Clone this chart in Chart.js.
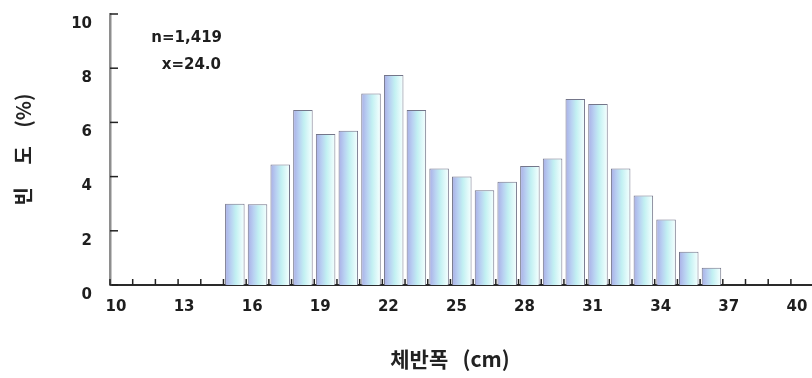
<!DOCTYPE html>
<html>
<head>
<meta charset="utf-8">
<script src="https://cdn.jsdelivr.net/npm/chart.js@4.4.1/dist/chart.umd.min.js"></script>
<style>
html,body{margin:0;padding:0;background:#ffffff;overflow:hidden}
canvas{display:block}
</style>
</head>
<body>
<canvas id="c" width="812" height="378"></canvas>
<script>
// ---- data ----
const binStarts = [15,16,17,18,19,20,21,22,23,24,25,26,27,28,29,30,31,32,33,34,35,36];
const frequency = [3.0,2.98,4.45,6.46,5.57,5.69,7.07,7.75,6.46,4.3,4.0,3.5,3.81,4.39,4.67,6.86,6.68,4.3,3.3,2.42,1.23,0.64];
const xTickLabels = [10,13,16,19,22,25,28,31,34,37,40];
const yTickLabels = [0,2,4,6,8,10];
const xTitle = '체반폭   (cm)';
const yTitle = '빈     도    (%)';
const notes = ['n=1,419', 'x=24.0'];

const labelFont = {family: '"DejaVu Sans", sans-serif', size: 15, weight: 'bold'};

function barFill(ctx) {
  const chart = ctx.chart;
  const xs = chart.scales && chart.scales.x;
  if (ctx.type !== 'data' || !xs || !chart.chartArea) return '#c4f0f0';
  const b = binStarts[ctx.dataIndex];
  const l = xs.getPixelForValue(b + 0.07);
  const r = xs.getPixelForValue(b + 0.93);
  if (!isFinite(l) || !isFinite(r) || r <= l) return '#c4f0f0';
  const g = chart.ctx.createLinearGradient(l, 0, r, 0);
  g.addColorStop(0, '#a9aee6');
  g.addColorStop(0.3, '#b9d2f2');
  g.addColorStop(0.55, '#c2f0f2');
  g.addColorStop(0.85, '#e6fbfb');
  g.addColorStop(1, '#f6ffff');
  return g;
}

const inwardTicks = {
  id: 'inwardTicks',
  afterDatasetsDraw(chart) {
    const {ctx, chartArea, scales} = chart;
    ctx.save();
    ctx.strokeStyle = '#222';
    ctx.lineWidth = 1.5;
    scales.x.ticks.forEach(t => {
      const px = scales.x.getPixelForValue(t.value);
      ctx.beginPath();
      ctx.moveTo(px, chartArea.bottom);
      ctx.lineTo(px, chartArea.bottom - 6);
      ctx.stroke();
    });
    scales.y.ticks.forEach(t => {
      const py = scales.y.getPixelForValue(t.value);
      ctx.beginPath();
      ctx.moveTo(chartArea.left, py);
      ctx.lineTo(chartArea.left + 8, py);
      ctx.stroke();
    });
    ctx.restore();
  }
};

const textPlugin = {
  id: 'texts',
  afterDraw(chart) {
    const {ctx} = chart;
    ctx.save();
    ctx.fillStyle = '#1e1e1e';
    ctx.font = 'bold 15px "DejaVu Sans", sans-serif';
    ctx.textAlign = 'right';
    ctx.textBaseline = 'middle';
    ctx.fillText(notes[0], 222, 38);
    ctx.fillText(notes[1], 221, 65);
    ctx.fillStyle = '#222';
    ctx.font = 'bold 21px "Noto Sans CJK KR", sans-serif';
    ctx.textAlign = 'center';
    ctx.fillText(xTitle, 450, 359);
    ctx.restore();
  }
};

new Chart(document.getElementById('c'), {
  type: 'bar',
  data: {
    datasets: [{
      data: binStarts.map((b, i) => ({x: b + 0.5, y: frequency[i]})),
      backgroundColor: barFill,
      borderColor: '#74768a',
      borderWidth: 1,
      borderSkipped: 'bottom',
      barPercentage: 0.86,
      categoryPercentage: 1.0
    }]
  },
  options: {
    responsive: false,
    animation: false,
    devicePixelRatio: 1,
    layout: {padding: {top: 14, right: 0, left: 0, bottom: 0}},
    plugins: {legend: {display: false}, tooltip: {enabled: false}},
    scales: {
      x: {
        type: 'linear',
        offset: false,
        min: 10,
        max: 40.93,
        grid: {display: false, drawTicks: false, offset: false},
        border: {display: true, color: '#2a2a2a', width: 2},
        ticks: {
          stepSize: 1,
          autoSkip: false,
          includeBounds: false,
          maxRotation: 0,
          padding: 13,
          labelOffset: 6,
          color: '#1e1e1e',
          font: labelFont,
          callback: v => xTickLabels.includes(v) ? String(v) : ''
        },
        title: {display: false},
        afterFit: s => { s.height = 93; s.paddingLeft = 0; s.paddingRight = 0; }
      },
      y: {
        min: 0,
        max: 10,
        grid: {display: false, drawTicks: false},
        border: {display: true, color: '#8e8e8e', width: 2.5},
        ticks: {
          stepSize: 2,
          padding: 18,
          labelOffset: 10,
          color: '#1e1e1e',
          font: labelFont,
          callback: v => yTickLabels.includes(v) ? String(v) : ''
        },
        title: {
          display: true,
          text: yTitle,
          color: '#222',
          font: {family: '"Noto Sans CJK KR", sans-serif', size: 20, weight: 'bold'},
          padding: {top: 11, bottom: 0}
        },
        afterFit: s => { s.width = 110; s.paddingTop = 0; s.paddingBottom = 0; }
      }
    }
  },
  plugins: [inwardTicks, textPlugin]
});
</script>
</body>
</html>
